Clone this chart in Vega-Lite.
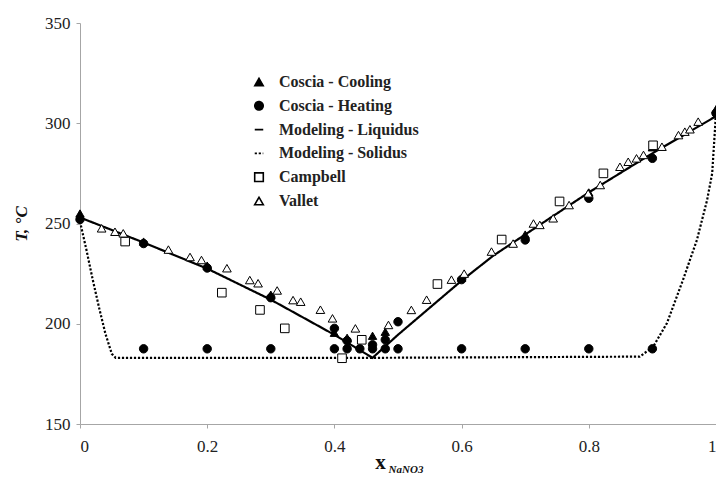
{
  "$schema": "https://vega.github.io/schema/vega-lite/v6.json",
  "width": 636,
  "height": 401,
  "autosize": {"type": "none"},
  "padding": {"left": 80, "top": 23, "right": 0, "bottom": 61},
  "background": "white",
  "title": {"text": "NaNO3", "orient": "bottom", "anchor": "middle", "dx": 8, "offset": -8, "font": "Liberation Serif", "fontSize": 11, "fontStyle": "italic", "fontWeight": "bold", "color": "#111"},
  "config": {
    "view": {"stroke": null},
    "font": "Liberation Serif",
    "axis": {"grid": false, "domainColor": "#a6a6a6", "tickColor": "#a6a6a6", "tickSize": 4, "labelFont": "Liberation Serif", "labelFontSize": 17, "labelColor": "#222", "titleFont": "Liberation Serif", "titleColor": "#111"},
    "legend": {"orient": "none", "legendX": 171, "legendY": 51, "padding": 0, "labelFont": "Liberation Serif", "labelFontSize": 16, "labelFontWeight": "bold", "labelColor": "#222", "rowPadding": 7.8, "labelOffset": 12, "symbolStrokeColor": "black", "symbolStrokeWidth": 1.5}
  },
  "data": {"values": [
    {"series": "Modeling - Liquidus", "x": 0, "T": 253},
    {"series": "Modeling - Liquidus", "x": 0.1, "T": 240.5},
    {"series": "Modeling - Liquidus", "x": 0.2, "T": 227.5},
    {"series": "Modeling - Liquidus", "x": 0.3, "T": 212},
    {"series": "Modeling - Liquidus", "x": 0.4, "T": 194.5},
    {"series": "Modeling - Liquidus", "x": 0.46, "T": 183},
    {"series": "Modeling - Liquidus", "x": 0.5, "T": 194.5},
    {"series": "Modeling - Liquidus", "x": 0.55, "T": 208},
    {"series": "Modeling - Liquidus", "x": 0.6, "T": 221.5},
    {"series": "Modeling - Liquidus", "x": 0.65, "T": 234},
    {"series": "Modeling - Liquidus", "x": 0.7, "T": 244.5},
    {"series": "Modeling - Liquidus", "x": 0.8, "T": 265.5},
    {"series": "Modeling - Liquidus", "x": 0.9, "T": 285},
    {"series": "Modeling - Liquidus", "x": 1.0, "T": 303.5},
    {"series": "Modeling - Solidus", "x": 0, "T": 251},
    {"series": "Modeling - Solidus", "x": 0.01, "T": 237},
    {"series": "Modeling - Solidus", "x": 0.02, "T": 222},
    {"series": "Modeling - Solidus", "x": 0.03, "T": 208},
    {"series": "Modeling - Solidus", "x": 0.04, "T": 195},
    {"series": "Modeling - Solidus", "x": 0.05, "T": 185},
    {"series": "Modeling - Solidus", "x": 0.056, "T": 183},
    {"series": "Modeling - Solidus", "x": 0.46, "T": 183},
    {"series": "Modeling - Solidus", "x": 0.88, "T": 183.6},
    {"series": "Modeling - Solidus", "x": 0.901, "T": 188.4},
    {"series": "Modeling - Solidus", "x": 0.923, "T": 200.4},
    {"series": "Modeling - Solidus", "x": 0.948, "T": 221.8},
    {"series": "Modeling - Solidus", "x": 0.97, "T": 241.8},
    {"series": "Modeling - Solidus", "x": 0.986, "T": 261.7},
    {"series": "Modeling - Solidus", "x": 0.994, "T": 275},
    {"series": "Modeling - Solidus", "x": 0.999, "T": 300},
    {"series": "Modeling - Solidus", "x": 1.0, "T": 308},
    {"series": "Coscia - Cooling", "x": 0, "T": 255},
    {"series": "Coscia - Cooling", "x": 0.1, "T": 241},
    {"series": "Coscia - Cooling", "x": 0.2, "T": 229},
    {"series": "Coscia - Cooling", "x": 0.3, "T": 214.5},
    {"series": "Coscia - Cooling", "x": 0.4, "T": 195.5},
    {"series": "Coscia - Cooling", "x": 0.42, "T": 193},
    {"series": "Coscia - Cooling", "x": 0.46, "T": 194},
    {"series": "Coscia - Cooling", "x": 0.48, "T": 196},
    {"series": "Coscia - Cooling", "x": 0.6, "T": 223},
    {"series": "Coscia - Cooling", "x": 0.7, "T": 244.5},
    {"series": "Coscia - Cooling", "x": 0.8, "T": 265.5},
    {"series": "Coscia - Cooling", "x": 0.9, "T": 288},
    {"series": "Coscia - Cooling", "x": 1.0, "T": 307},
    {"series": "Coscia - Heating", "x": 0, "T": 252},
    {"series": "Coscia - Heating", "x": 0.1, "T": 240},
    {"series": "Coscia - Heating", "x": 0.2, "T": 227.8},
    {"series": "Coscia - Heating", "x": 0.3, "T": 213},
    {"series": "Coscia - Heating", "x": 0.4, "T": 197.7},
    {"series": "Coscia - Heating", "x": 0.42, "T": 191.5},
    {"series": "Coscia - Heating", "x": 0.46, "T": 189.5},
    {"series": "Coscia - Heating", "x": 0.48, "T": 192},
    {"series": "Coscia - Heating", "x": 0.5, "T": 201},
    {"series": "Coscia - Heating", "x": 0.6, "T": 222},
    {"series": "Coscia - Heating", "x": 0.7, "T": 241.8},
    {"series": "Coscia - Heating", "x": 0.8, "T": 262.6},
    {"series": "Coscia - Heating", "x": 0.9, "T": 282.5},
    {"series": "Coscia - Heating", "x": 1.0, "T": 305},
    {"series": "Coscia - Heating", "x": 0.1, "T": 187.5},
    {"series": "Coscia - Heating", "x": 0.2, "T": 187.5},
    {"series": "Coscia - Heating", "x": 0.3, "T": 187.5},
    {"series": "Coscia - Heating", "x": 0.4, "T": 187.5},
    {"series": "Coscia - Heating", "x": 0.42, "T": 187.5},
    {"series": "Coscia - Heating", "x": 0.44, "T": 187.5},
    {"series": "Coscia - Heating", "x": 0.46, "T": 187.5},
    {"series": "Coscia - Heating", "x": 0.48, "T": 187.5},
    {"series": "Coscia - Heating", "x": 0.5, "T": 187.5},
    {"series": "Coscia - Heating", "x": 0.6, "T": 187.5},
    {"series": "Coscia - Heating", "x": 0.7, "T": 187.5},
    {"series": "Coscia - Heating", "x": 0.8, "T": 187.5},
    {"series": "Coscia - Heating", "x": 0.9, "T": 187.5},
    {"series": "Campbell", "x": 0.071, "T": 241},
    {"series": "Campbell", "x": 0.223, "T": 215.5},
    {"series": "Campbell", "x": 0.283, "T": 206.9},
    {"series": "Campbell", "x": 0.322, "T": 197.7},
    {"series": "Campbell", "x": 0.412, "T": 182.8},
    {"series": "Campbell", "x": 0.443, "T": 192},
    {"series": "Campbell", "x": 0.562, "T": 219.8},
    {"series": "Campbell", "x": 0.663, "T": 242},
    {"series": "Campbell", "x": 0.754, "T": 261},
    {"series": "Campbell", "x": 0.823, "T": 275},
    {"series": "Campbell", "x": 0.901, "T": 289},
    {"series": "Vallet", "x": 0.034, "T": 247.6},
    {"series": "Vallet", "x": 0.055, "T": 245.9},
    {"series": "Vallet", "x": 0.068, "T": 245.1},
    {"series": "Vallet", "x": 0.139, "T": 237},
    {"series": "Vallet", "x": 0.173, "T": 233.3},
    {"series": "Vallet", "x": 0.191, "T": 231.8},
    {"series": "Vallet", "x": 0.231, "T": 227.7},
    {"series": "Vallet", "x": 0.267, "T": 221.8},
    {"series": "Vallet", "x": 0.28, "T": 220.2},
    {"series": "Vallet", "x": 0.31, "T": 216.6},
    {"series": "Vallet", "x": 0.335, "T": 211.8},
    {"series": "Vallet", "x": 0.347, "T": 211},
    {"series": "Vallet", "x": 0.378, "T": 207},
    {"series": "Vallet", "x": 0.397, "T": 202.7},
    {"series": "Vallet", "x": 0.433, "T": 197.7},
    {"series": "Vallet", "x": 0.485, "T": 199.4},
    {"series": "Vallet", "x": 0.521, "T": 206.9},
    {"series": "Vallet", "x": 0.545, "T": 212},
    {"series": "Vallet", "x": 0.584, "T": 222},
    {"series": "Vallet", "x": 0.604, "T": 225},
    {"series": "Vallet", "x": 0.647, "T": 236},
    {"series": "Vallet", "x": 0.681, "T": 240},
    {"series": "Vallet", "x": 0.713, "T": 250},
    {"series": "Vallet", "x": 0.723, "T": 249.3},
    {"series": "Vallet", "x": 0.744, "T": 252.6},
    {"series": "Vallet", "x": 0.769, "T": 259.2},
    {"series": "Vallet", "x": 0.799, "T": 265},
    {"series": "Vallet", "x": 0.818, "T": 269.2},
    {"series": "Vallet", "x": 0.849, "T": 278.3},
    {"series": "Vallet", "x": 0.862, "T": 280.8},
    {"series": "Vallet", "x": 0.875, "T": 282.5},
    {"series": "Vallet", "x": 0.886, "T": 284.2},
    {"series": "Vallet", "x": 0.915, "T": 288.3},
    {"series": "Vallet", "x": 0.941, "T": 294.1},
    {"series": "Vallet", "x": 0.951, "T": 295.8},
    {"series": "Vallet", "x": 0.959, "T": 297},
    {"series": "Vallet", "x": 0.972, "T": 300.8}
  ]},
  "encoding": {
    "x": {"field": "x", "type": "quantitative", "scale": {"domain": [0, 1], "nice": false, "zero": false},
      "axis": {"values": [0, 0.2, 0.4, 0.6, 0.8, 1], "format": "~g", "labelPadding": 10, "title": "x", "titleFontSize": 21, "titleFontWeight": "bold", "titleBaseline": "alphabetic", "titleY": 44, "titleX": 300}},
    "y": {"field": "T", "type": "quantitative", "scale": {"domain": [150, 350], "nice": false, "zero": false},
      "axis": {"values": [150, 200, 250, 300, 350], "labelPadding": 6, "title": "T, °C", "titleFontSize": 17, "titleFontWeight": "bold", "titleFontStyle": "italic", "titlePadding": 14}}
  },
  "layer": [
    {
      "transform": [{"filter": "datum.series === 'Modeling - Liquidus' || datum.series === 'Modeling - Solidus'"}],
      "mark": {"type": "line", "color": "black", "strokeWidth": 2.2},
      "encoding": {
        "strokeDash": {"field": "series", "type": "nominal",
          "scale": {"domain": ["Coscia - Cooling", "Coscia - Heating", "Modeling - Liquidus", "Modeling - Solidus", "Campbell", "Vallet"],
                    "range": [[1, 0], [1, 0], [1, 0], [2.2, 1.8], [1, 0], [1, 0]]},
          "legend": {"title": null, "encode": {"symbols": {"update": {"stroke": {"value": "black"}, "strokeWidth": {"value": 1.6}, "size": {"scale": "size", "field": "value"}}}}}}
      }
    },
    {
      "transform": [{"filter": "datum.series !== 'Modeling - Liquidus' && datum.series !== 'Modeling - Solidus'"}],
      "mark": {"type": "point", "filled": true, "stroke": "black", "strokeWidth": 1, "opacity": 1},
      "encoding": {
        "shape": {"field": "series", "type": "nominal",
          "scale": {"domain": ["Coscia - Cooling", "Coscia - Heating", "Modeling - Liquidus", "Modeling - Solidus", "Campbell", "Vallet"],
                    "range": ["triangle-up", "circle", "stroke", "stroke", "square", "triangle-up"]},
          "legend": {"title": null, "encode": {"symbols": {"update": {"stroke": {"value": "black"}, "strokeWidth": {"value": 1.6}, "size": {"scale": "size", "field": "value"}}}}}},
        "fill": {"field": "series", "type": "nominal",
          "scale": {"domain": ["Coscia - Cooling", "Coscia - Heating", "Modeling - Liquidus", "Modeling - Solidus", "Campbell", "Vallet"],
                    "range": ["black", "black", "transparent", "transparent", "white", "white"]},
          "legend": {"title": null, "encode": {"symbols": {"update": {"stroke": {"value": "black"}, "strokeWidth": {"value": 1.6}, "size": {"scale": "size", "field": "value"}}}}}},
        "size": {"field": "series", "type": "nominal",
          "scale": {"domain": ["Coscia - Cooling", "Coscia - Heating", "Modeling - Liquidus", "Modeling - Solidus", "Campbell", "Vallet"],
                    "range": [70, 75, 3000, 3000, 60, 70]},
          "legend": null}
      }
    }
  ]
}
